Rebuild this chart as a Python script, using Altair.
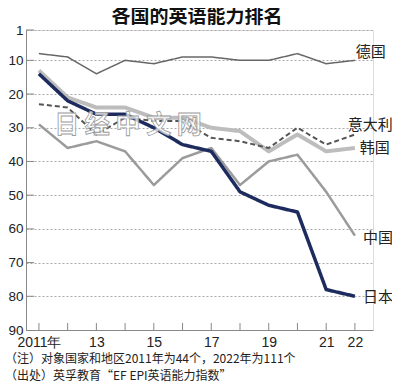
import altair as alt
import pandas as pd

years = list(range(2011, 2023))
japan = [14, 22, 26, 26, 30, 35, 37, 49, 53, 55, 78, 80]
korea = [13, 21, 24, 24, 27, 27, 30, 31, 37, 32, 37, 36]
china = [29, 36, 34, 37, 47, 39, 36, 47, 40, 38, 49, 62]
germany = [8, 9, 14, 10, 11, 9, 9, 10, 10, 8, 11, 10]
italy = [23, 24, 32, 27, 28, 28, 33, 34, 36, 30, 35, 32]

draw_order = ["韩国", "中国", "德国", "意大利", "日本"]
series = {"日本": japan, "韩国": korea, "中国": china, "德国": germany, "意大利": italy}
colors = {"日本": "#1d2b5e", "韩国": "#bdbdbd", "中国": "#9b9b9b", "德国": "#666666", "意大利": "#555555"}
widths = {"日本": 3.5, "韩国": 4, "中国": 2.5, "德国": 1.5, "意大利": 2}
dashes = {"日本": [1, 0], "韩国": [1, 0], "中国": [1, 0], "德国": [1, 0], "意大利": [5, 3]}

label_names = ["德国", "意大利", "韩国", "中国", "日本"]
label_x = [2022.03, 2021.75, 2022.17, 2022.28, 2022.28]
label_rank = [7.6, 29.3, 36.1, 62.7, 80.2]

rank_ticks = [1, 10, 20, 30, 40, 50, 60, 70, 80, 90]
year_labels = [2011, 2013, 2015, 2017, 2019, 2021, 2022]

title_text = "各国的英语能力排名"
note1 = "（注）对象国家和地区2011年为44个，2022年为111个"
note2 = "（出处）英孚教育“EF EPI英语能力指数”"
watermark = "日 经 中 文 网"

NUM_FONT = "Liberation Sans"
CJK = "Noto Sans CJK SC"

W, H = 347, 300

rows = []
for c in draw_order:
    for y, v in zip(years, series[c]):
        rows.append({"country": c, "year": y, "rank": v})
df = pd.DataFrame(rows)

xscale = alt.Scale(domain=[2010.55, 2022.63], nice=False, zero=False)
yscale = alt.Scale(domain=[1, 90], reverse=True, nice=False, zero=False)

xaxis = alt.Axis(
    values=year_labels,
    labelExpr="datum.value == 2011 ? '2011年' : substring(toString(datum.value), 2, 4)",
    ticks=False, grid=False, domainColor="#888888", domainWidth=1,
    labelFont=NUM_FONT, labelFontSize=14, labelColor="#222222", labelPadding=5,
    labelOverlap=False, title=None,
)
yaxis = alt.Axis(
    values=rank_ticks, tickCount=10, ticks=False, grid=True, gridDash=[2, 2],
    gridColor="#aaaaaa", gridWidth=1, domainColor="#888888", domainWidth=1,
    labelFont=NUM_FONT, labelFontSize=13.5, labelColor="#222222", labelPadding=3,
    labelOverlap=False, labelFlush=False, title=None,
)


def X(f):
    return alt.X(f, scale=xscale, axis=xaxis)


def Y(f):
    return alt.Y(f, scale=yscale, axis=yaxis)


base = alt.Chart(df)
layers = []
axis_layer = alt.Chart(pd.DataFrame({"rank": rank_ticks[:-1]})).mark_rule(
    color="#888888", strokeWidth=1
).encode(
    y=Y("rank:Q"),
    x=alt.value(0), x2=alt.value(8),
)
layers.append(axis_layer)
xtick_layer = alt.Chart(pd.DataFrame({"year": years})).mark_rule(
    color="#888888", strokeWidth=1
).encode(
    x=X("year:Q"),
    y=alt.value(H), y2=alt.value(H - 7),
)
layers.append(xtick_layer)

for c in draw_order:
    layers.append(
        base.transform_filter(alt.datum.country == c).mark_line(
            color=colors[c], strokeWidth=widths[c], strokeDash=dashes[c],
            strokeJoin="round", strokeCap="butt",
        ).encode(
            x=X("year:Q"),
            y=Y("rank:Q"),
        )
    )

wm = alt.Chart(pd.DataFrame({"t": [watermark], "year": [2014.1], "rank": [29.3]})).mark_text(
    font=CJK, fontSize=25, fontWeight="bold", fill="white", fillOpacity=0.75,
    stroke="#9a9a9a", strokeWidth=0.8, align="center", baseline="middle",
).encode(
    x=X("year:Q"), y=Y("rank:Q"), text="t:N"
)
layers.append(wm)

lab = alt.Chart(pd.DataFrame({"name": label_names, "x": label_x, "rank": label_rank})).mark_text(
    font=CJK, fontSize=15, color="#222222", align="left", baseline="middle",
).encode(
    x=X("x:Q"), y=Y("rank:Q"), text="name:N"
)
layers.append(lab)

notes = alt.Chart(pd.DataFrame({"t": [note1, note2], "py": [H + 28.5, H + 46]})).mark_text(
    font=CJK, fontSize=12, color="#222222", align="left", baseline="middle",
).encode(
    x=alt.value(-21), y=alt.Y("py:Q", scale=None), text="t:N"
)
layers.append(notes)

title = alt.Chart(pd.DataFrame({"t": [title_text]})).mark_text(
    font=CJK, fontSize=19, fontWeight="bold", color="#111111", align="center",
    baseline="middle",
).encode(
    x=alt.value(171), y=alt.value(-13), text="t:N"
)
layers.append(title)

chart = alt.layer(*layers).properties(
    width=W, height=H,
    autosize=alt.AutoSizeParams(type="none"),
    padding={"left": 18, "top": 22, "right": 19, "bottom": 59},
).configure_view(stroke=None).configure(background="white")

chart.save("out.html", embed_options={"renderer": "svg", "actions": False})
